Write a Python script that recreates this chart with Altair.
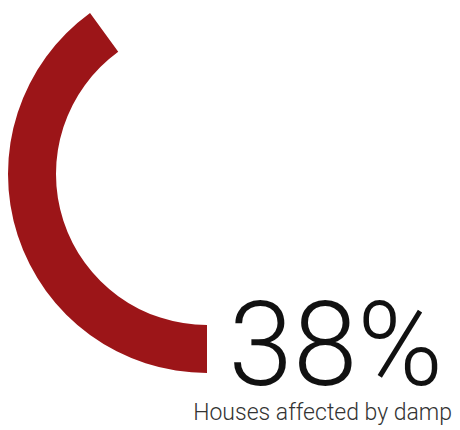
import altair as alt
import pandas as pd

# data
categories = ["Houses affected by damp"]
values = [38]
labels = ["38%"]

arc_df = pd.DataFrame({"category": categories, "value": values})
text_df = pd.DataFrame({"label": labels, "caption": categories})

RED = "#9c1518"
FONT = "Roboto, sans-serif"

arc = alt.Chart(arc_df).mark_arc(
    outerRadius=199, innerRadius=151, color=RED, stroke=None
).encode(
    theta=alt.Theta("value:Q", stack=True,
                    scale=alt.Scale(domain=[0, 95], range=[3.14159265, 3.14159265 * 3])),
)

big = alt.Chart(text_df).mark_text(
    font=FONT, fontSize=116, fontWeight=300, align="right", baseline="alphabetic",
    color="#111111"
).encode(
    text="label:N",
    x=alt.value(435), y=alt.value(377)
)

cap = alt.Chart(text_df).mark_text(
    font=FONT, fontSize=23, fontWeight=300, align="right", baseline="alphabetic",
    color="#333333"
).encode(
    text="caption:N",
    x=alt.value(444), y=alt.value(412)
)

chart = alt.layer(arc, big, cap).properties(
    width=398, height=332, padding=0
).configure_view(stroke=None)

chart.save("out.html", embed_options={"renderer": "svg", "actions": False})
